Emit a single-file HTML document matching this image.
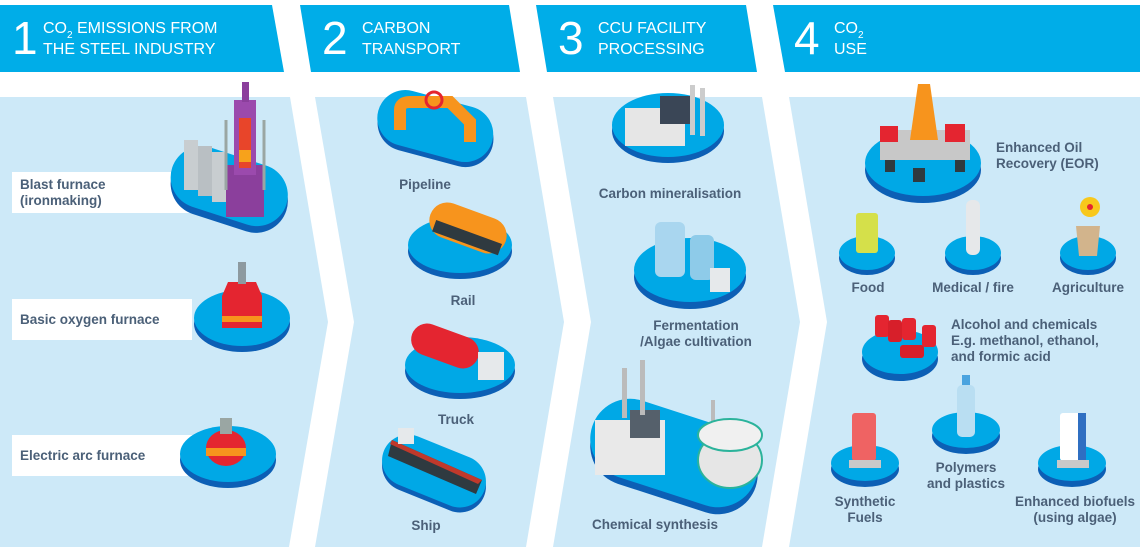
<!DOCTYPE html>
<html><head><meta charset="utf-8"><style>
html,body{margin:0;padding:0;background:#fff;}
svg{display:block;}
.h{font-family:"Liberation Sans",sans-serif;fill:#fff;}
.num{font-size:46px;font-weight:300;}
.ht{font-size:16px;}
.l{font-family:"Liberation Sans",sans-serif;font-weight:bold;font-size:13.5px;fill:#4b6078;}
</style></head><body>
<svg width="1140" height="552" viewBox="0 0 1140 552" xmlns="http://www.w3.org/2000/svg">
<!-- headers -->
<polygon points="0,5 272,5 284,72 0,72" fill="#00ade8"/>
<polygon points="300,5 509,5 520,72 311,72" fill="#00ade8"/>
<polygon points="536,5 746,5 757,72 547,72" fill="#00ade8"/>
<polygon points="773,5 1140,5 1140,72 785,72" fill="#00ade8"/>
<text class="h num" x="12" y="54">1</text>
<text class="h ht" x="43" y="33">CO<tspan font-size="10" dy="5">2</tspan><tspan dy="-5"> EMISSIONS FROM</tspan></text>
<text class="h ht" x="43" y="54">THE STEEL INDUSTRY</text>
<text class="h num" x="322" y="54">2</text>
<text class="h ht" x="362" y="33">CARBON</text>
<text class="h ht" x="362" y="54">TRANSPORT</text>
<text class="h num" x="558" y="54">3</text>
<text class="h ht" x="598" y="33">CCU FACILITY</text>
<text class="h ht" x="598" y="54">PROCESSING</text>
<text class="h num" x="794" y="54">4</text>
<text class="h ht" x="834" y="33">CO<tspan font-size="10" dy="5">2</tspan></text>
<text class="h ht" x="834" y="54">USE</text>
<!-- panels -->
<polygon points="0,97 290,97 328,322 289,547 0,547" fill="#cde9f8"/>
<polygon points="315,97 526,97 564,322 526,547 315,547 354,322" fill="#cde9f8"/>
<polygon points="553,97 762,97 800,322 762,547 553,547 591,322" fill="#cde9f8"/>
<polygon points="789,97 1140,97 1140,547 789,547 827,322" fill="#cde9f8"/>

<!-- Panel 1 -->
<rect x="12" y="172" width="180" height="41" fill="#fff"/>
<text class="l" x="20" y="189">Blast furnace</text>
<text class="l" x="20" y="205">(ironmaking)</text>
<rect x="168" y="160" width="120" height="64" rx="32" fill="#0c5fb5" transform="rotate(18 228 196)"/>
<rect x="168" y="155" width="120" height="62" rx="31" fill="#00a8e6" transform="rotate(18 228 190)"/>
<rect x="184" y="140" width="14" height="50" fill="#c8cdd0"/><rect x="198" y="146" width="14" height="50" fill="#b9bfc3"/><rect x="212" y="152" width="14" height="50" fill="#c8cdd0"/>
<rect x="226" y="165" width="38" height="52" fill="#8b3f9c"/><rect x="234" y="100" width="22" height="75" fill="#9b4aad"/>
<rect x="239" y="118" width="12" height="50" fill="#e8452a"/><rect x="239" y="150" width="12" height="12" fill="#f7a21b"/>
<rect x="242" y="82" width="7" height="20" fill="#8b3f9c"/>
<line x1="226" y1="120" x2="226" y2="190" stroke="#9aa6a3" stroke-width="3"/><line x1="264" y1="120" x2="264" y2="190" stroke="#9aa6a3" stroke-width="3"/>

<rect x="12" y="299" width="180" height="41" fill="#fff"/>
<text class="l" x="20" y="324">Basic oxygen furnace</text>
<ellipse cx="242" cy="324" rx="48" ry="28" fill="#0c5fb5"/><ellipse cx="242" cy="318" rx="48" ry="28" fill="#00a8e6"/>
<path d="M228,282 h28 l6,14 v32 h-40 v-32z" fill="#e42530"/><rect x="222" y="316" width="40" height="6" fill="#f7941d"/><rect x="238" y="262" width="8" height="22" fill="#8d9aa0"/>

<rect x="12" y="435" width="180" height="41" fill="#fff"/>
<text class="l" x="20" y="460">Electric arc furnace</text>
<ellipse cx="228" cy="460" rx="48" ry="28" fill="#0c5fb5"/><ellipse cx="228" cy="454" rx="48" ry="28" fill="#00a8e6"/>
<ellipse cx="226" cy="448" rx="20" ry="18" fill="#e42530"/><rect x="206" y="448" width="40" height="8" fill="#f7941d"/><rect x="220" y="418" width="12" height="16" fill="#9aa6a3"/>

<!-- Panel 2 -->
<rect x="376" y="103" width="118" height="56" rx="28" fill="#0c5fb5" transform="rotate(15 435 133)"/>
<rect x="376" y="98" width="118" height="56" rx="28" fill="#00a8e6" transform="rotate(15 435 127)"/>
<path d="M400,130 v-20 q0,-8 10,-8 h40 l20,20 v20" fill="none" stroke="#f7941d" stroke-width="12"/>
<circle cx="434" cy="100" r="8" fill="none" stroke="#e42530" stroke-width="3"/>
<text class="l" x="425" y="189" text-anchor="middle">Pipeline</text>
<ellipse cx="460" cy="251" rx="52" ry="28" fill="#0c5fb5"/><ellipse cx="460" cy="245" rx="52" ry="28" fill="#00a8e6"/>
<rect x="428" y="210" width="80" height="36" rx="18" fill="#f7941d" transform="rotate(20 468 228)"/><rect x="432" y="232" width="70" height="12" fill="#2f3a40" transform="rotate(20 468 238)"/>
<text class="l" x="463" y="305" text-anchor="middle">Rail</text>
<ellipse cx="460" cy="371" rx="55" ry="28" fill="#0c5fb5"/><ellipse cx="460" cy="365" rx="55" ry="28" fill="#00a8e6"/>
<rect x="410" y="330" width="70" height="32" rx="16" fill="#e42530" transform="rotate(20 445 346)"/><rect x="478" y="352" width="26" height="28" fill="#e6e9eb"/>
<text class="l" x="456" y="424" text-anchor="middle">Truck</text>
<rect x="380" y="450" width="108" height="52" rx="26" fill="#0c5fb5" transform="rotate(22 434 476)"/>
<rect x="380" y="445" width="108" height="52" rx="26" fill="#00a8e6" transform="rotate(22 434 471)"/>
<path d="M392,440 l90,40 l-6,14 l-88,-38z" fill="#2f3a40"/><path d="M392,440 l90,40 l-4,4 l-88,-40z" fill="#c0392b"/><rect x="398" y="428" width="16" height="16" fill="#e6e9eb"/>
<text class="l" x="426" y="530" text-anchor="middle">Ship</text>

<!-- Panel 3 -->
<ellipse cx="668" cy="131" rx="56" ry="32" fill="#0c5fb5"/><ellipse cx="668" cy="125" rx="56" ry="32" fill="#00a8e6"/>
<rect x="625" y="108" width="60" height="38" fill="#e6e6e6"/><rect x="660" y="96" width="30" height="28" fill="#3a4656"/><rect x="690" y="85" width="5" height="50" fill="#ccc"/><rect x="700" y="88" width="5" height="48" fill="#ccc"/>
<text class="l" x="670" y="198" text-anchor="middle">Carbon mineralisation</text>
<ellipse cx="690" cy="277" rx="56" ry="32" fill="#0c5fb5"/><ellipse cx="690" cy="270" rx="56" ry="32" fill="#00a8e6"/>
<rect x="655" y="222" width="30" height="55" rx="6" fill="#a9d6ef"/><rect x="690" y="235" width="24" height="45" rx="6" fill="#8ecbe9"/><rect x="710" y="268" width="20" height="24" fill="#e6e9eb"/>
<text class="l" x="696" y="330" text-anchor="middle">Fermentation</text>
<text class="l" x="696" y="346" text-anchor="middle">/Algae cultivation</text>
<rect x="588" y="420" width="172" height="80" rx="40" fill="#0c5fb5" transform="rotate(18 674 460)"/>
<rect x="588" y="413" width="172" height="80" rx="40" fill="#00a8e6" transform="rotate(18 674 453)"/>
<rect x="595" y="420" width="70" height="55" fill="#e9e9e9"/><rect x="630" y="410" width="30" height="28" fill="#55606b"/>
<rect x="622" y="368" width="5" height="50" fill="#bbb"/><rect x="640" y="360" width="5" height="55" fill="#bbb"/><rect x="711" y="400" width="4" height="30" fill="#bbb"/>
<ellipse cx="730" cy="460" rx="32" ry="28" fill="#e6e6e6" stroke="#2bb39b" stroke-width="2"/><ellipse cx="730" cy="435" rx="32" ry="16" fill="#f0f0f0" stroke="#2bb39b" stroke-width="2"/>
<text class="l" x="655" y="529" text-anchor="middle">Chemical synthesis</text>

<!-- Panel 4 -->
<ellipse cx="923" cy="170" rx="58" ry="33" fill="#0c5fb5"/><ellipse cx="923" cy="163" rx="58" ry="33" fill="#00a8e6"/>
<rect x="880" y="130" width="90" height="30" fill="#c8c8c8"/><rect x="880" y="126" width="18" height="16" fill="#e42530"/><rect x="945" y="124" width="20" height="18" fill="#e42530"/>
<polygon points="918,84 930,84 938,140 910,140" fill="#f7941d"/><rect x="885" y="160" width="10" height="12" fill="#2f3a40"/><rect x="955" y="160" width="10" height="12" fill="#2f3a40"/><rect x="913" y="168" width="12" height="14" fill="#2f3a40"/>
<text class="l" x="996" y="152">Enhanced Oil</text>
<text class="l" x="996" y="168">Recovery (EOR)</text>

<ellipse cx="867" cy="258" rx="28" ry="17" fill="#0c5fb5"/><ellipse cx="867" cy="253" rx="28" ry="17" fill="#00a8e6"/>
<rect x="856" y="213" width="22" height="40" rx="3" fill="#d5e04a"/>
<ellipse cx="973" cy="258" rx="28" ry="17" fill="#0c5fb5"/><ellipse cx="973" cy="253" rx="28" ry="17" fill="#00a8e6"/>
<rect x="966" y="200" width="14" height="55" rx="6" fill="#e6e8ea"/>
<ellipse cx="1088" cy="258" rx="28" ry="17" fill="#0c5fb5"/><ellipse cx="1088" cy="253" rx="28" ry="17" fill="#00a8e6"/>
<path d="M1076,226 h24 l-3,30 h-18z" fill="#d2b48c"/><circle cx="1090" cy="207" r="10" fill="#f8c81c"/><circle cx="1090" cy="207" r="3" fill="#e42530"/>
<text class="l" x="868" y="292" text-anchor="middle">Food</text>
<text class="l" x="973" y="292" text-anchor="middle">Medical / fire</text>
<text class="l" x="1088" y="292" text-anchor="middle">Agriculture</text>

<ellipse cx="900" cy="359" rx="38" ry="22" fill="#0c5fb5"/><ellipse cx="900" cy="352" rx="38" ry="22" fill="#00a8e6"/>
<rect x="875" y="315" width="14" height="22" rx="3" fill="#e42530"/><rect x="888" y="320" width="14" height="22" rx="3" fill="#d71f2a"/><rect x="902" y="318" width="14" height="22" rx="3" fill="#e42530"/><rect x="922" y="325" width="14" height="22" rx="3" fill="#e42530"/><rect x="900" y="345" width="24" height="13" rx="3" fill="#d71f2a"/>
<text class="l" x="951" y="329">Alcohol and chemicals</text>
<text class="l" x="951" y="345">E.g. methanol, ethanol,</text>
<text class="l" x="951" y="361">and formic acid</text>

<ellipse cx="865" cy="469" rx="34" ry="18" fill="#0c5fb5"/><ellipse cx="865" cy="463" rx="34" ry="18" fill="#00a8e6"/>
<rect x="852" y="413" width="24" height="48" rx="3" fill="#ef6363"/><rect x="849" y="460" width="32" height="8" fill="#c9c9c9"/>
<ellipse cx="966" cy="436" rx="34" ry="18" fill="#0c5fb5"/><ellipse cx="966" cy="430" rx="34" ry="18" fill="#00a8e6"/>
<rect x="957" y="385" width="18" height="52" rx="5" fill="#b9def2"/><rect x="962" y="375" width="8" height="10" fill="#4aa3df"/>
<ellipse cx="1072" cy="469" rx="34" ry="18" fill="#0c5fb5"/><ellipse cx="1072" cy="463" rx="34" ry="18" fill="#00a8e6"/>
<rect x="1060" y="413" width="24" height="48" rx="3" fill="#fff"/><rect x="1078" y="413" width="8" height="48" fill="#2f6fc2"/><rect x="1057" y="460" width="32" height="8" fill="#c9c9c9"/>
<text class="l" x="865" y="506" text-anchor="middle">Synthetic</text>
<text class="l" x="865" y="522" text-anchor="middle">Fuels</text>
<text class="l" x="966" y="472" text-anchor="middle">Polymers</text>
<text class="l" x="966" y="488" text-anchor="middle">and plastics</text>
<text class="l" x="1075" y="506" text-anchor="middle">Enhanced biofuels</text>
<text class="l" x="1075" y="522" text-anchor="middle">(using algae)</text>
</svg>
</body></html>
